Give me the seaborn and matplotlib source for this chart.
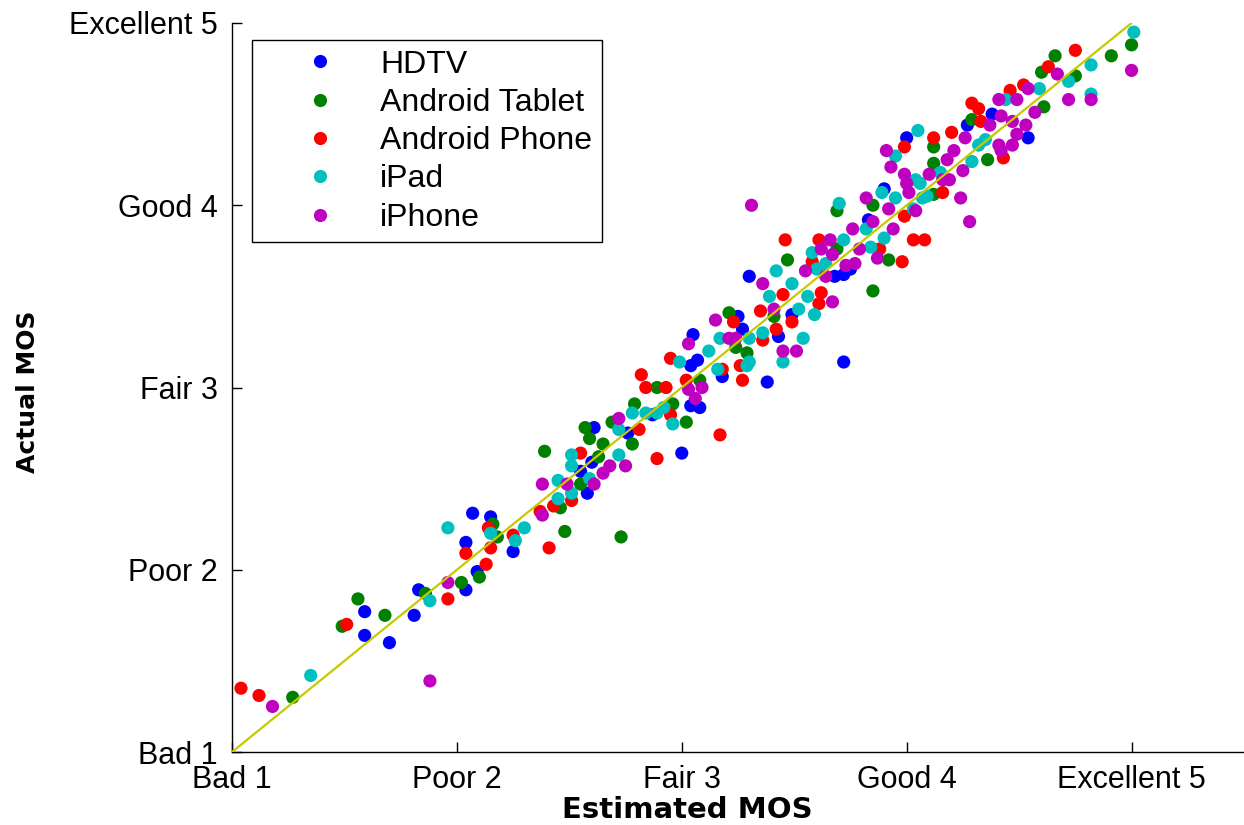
import matplotlib
matplotlib.use("Agg")
import matplotlib.pyplot as plt
import seaborn as sns
import pandas as pd

# MOS scale
mos_scale = [1, 2, 3, 4, 5]
mos_labels = ["Bad 1", "Poor 2", "Fair 3", "Good 4", "Excellent 5"]

devices = ["HDTV", "Android Tablet", "Android Phone", "iPad", "iPhone"]
device_colors = ["#0000ff", "#008000", "#ff0000", "#00bfbf", "#bf00bf"]

# (estimated, actual) pairs
hdtv = [(1.59, 1.77), (1.59, 1.64), (1.70, 1.60), (1.81, 1.75), (1.83, 1.89), (2.04, 1.89),
        (2.09, 1.99), (2.04, 2.15), (2.07, 2.31), (2.15, 2.29), (2.25, 2.10), (2.58, 2.42),
        (2.55, 2.54), (2.60, 2.59), (2.61, 2.78), (2.76, 2.75), (2.87, 2.85), (3.00, 2.64),
        (3.05, 3.29), (3.07, 3.15), (3.04, 3.12), (3.04, 2.90), (3.08, 2.89), (3.18, 3.06),
        (3.27, 3.32), (3.25, 3.39), (3.30, 3.61), (3.38, 3.03), (3.43, 3.28), (3.49, 3.40),
        (3.72, 3.14), (3.72, 3.62), (3.68, 3.61), (3.75, 3.65), (3.83, 3.92), (3.90, 4.09),
        (4.00, 4.37), (4.27, 4.44), (4.38, 4.50), (4.54, 4.37)]

android_tablet = [(1.27, 1.30), (1.49, 1.69), (1.56, 1.84), (1.68, 1.75), (1.86, 1.87), (2.02, 1.93),
                  (2.10, 1.96), (2.16, 2.25), (2.18, 2.18), (2.48, 2.21), (2.73, 2.18), (2.46, 2.34),
                  (2.55, 2.47), (2.39, 2.65), (2.57, 2.78), (2.59, 2.72), (2.65, 2.69), (2.63, 2.62),
                  (2.69, 2.81), (2.79, 2.91), (2.78, 2.69), (2.96, 2.91), (3.02, 2.81), (2.89, 3.00),
                  (3.08, 3.04), (3.21, 3.41), (3.24, 3.22), (3.29, 3.19), (3.41, 3.39), (3.47, 3.70),
                  (3.69, 3.97), (3.85, 4.00), (3.69, 3.76), (3.92, 3.70), (3.85, 3.53), (4.12, 4.06),
                  (4.12, 4.23), (4.12, 4.32), (4.36, 4.25), (4.29, 4.47), (4.61, 4.54), (4.60, 4.73),
                  (4.66, 4.82), (4.75, 4.71), (4.91, 4.82), (5.00, 4.88)]

android_phone = [(1.04, 1.35), (1.12, 1.31), (1.51, 1.70), (1.96, 1.84), (2.04, 2.09), (2.13, 2.03),
                 (2.14, 2.23), (2.15, 2.12), (2.25, 2.19), (2.41, 2.12), (2.37, 2.32), (2.43, 2.35),
                 (2.51, 2.38), (2.55, 2.64), (2.81, 2.77), (2.89, 2.61), (3.17, 2.74), (2.84, 3.00),
                 (2.82, 3.07), (2.93, 3.00), (2.95, 3.16), (2.95, 2.85), (3.02, 3.04), (3.18, 3.10),
                 (3.23, 3.36), (3.26, 3.12), (3.27, 3.04), (3.35, 3.42), (3.42, 3.32), (3.36, 3.26),
                 (3.45, 3.51), (3.49, 3.36), (3.46, 3.81), (3.62, 3.52), (3.61, 3.46), (3.61, 3.81),
                 (3.58, 3.69), (3.88, 3.76), (3.98, 3.69), (4.03, 3.81), (4.08, 3.81), (3.99, 3.94),
                 (4.16, 4.07), (3.99, 4.32), (4.12, 4.37), (4.20, 4.40), (4.29, 4.56), (4.32, 4.53),
                 (4.33, 4.46), (4.43, 4.26), (4.46, 4.63), (4.52, 4.66), (4.63, 4.76), (4.75, 4.85)]

ipad = [(1.35, 1.42), (1.88, 1.83), (1.96, 2.23), (2.15, 2.20), (2.26, 2.16), (2.30, 2.23),
        (2.45, 2.39), (2.51, 2.42), (2.45, 2.49), (2.51, 2.63), (2.51, 2.57), (2.59, 2.50),
        (2.72, 2.63), (2.72, 2.77), (2.78, 2.86), (2.84, 2.86), (2.89, 2.86), (2.92, 2.89),
        (2.96, 2.80), (2.99, 3.14), (3.12, 3.20), (3.16, 3.10), (3.17, 3.27), (3.29, 3.12),
        (3.30, 3.27), (3.36, 3.30), (3.30, 3.14), (3.39, 3.50), (3.42, 3.64), (3.49, 3.57),
        (3.52, 3.43), (3.56, 3.50), (3.59, 3.40), (3.54, 3.27), (3.45, 3.14), (3.60, 3.65),
        (3.58, 3.74), (3.64, 3.68), (3.72, 3.81), (3.82, 3.87), (3.84, 3.77), (3.90, 3.82),
        (3.70, 4.01), (3.89, 4.07), (3.95, 4.04), (4.03, 3.98), (4.07, 4.04), (4.04, 4.14),
        (4.09, 4.05), (4.06, 4.12), (3.95, 4.27), (4.05, 4.41), (4.15, 4.18), (4.29, 4.24),
        (4.32, 4.33), (4.35, 4.36), (4.44, 4.58), (4.59, 4.64), (4.72, 4.68), (4.82, 4.77),
        (4.82, 4.61), (5.01, 4.95)]

iphone = [(1.18, 1.25), (1.88, 1.39), (1.96, 1.93), (2.38, 2.30), (2.38, 2.47), (2.49, 2.47),
          (2.61, 2.47), (2.65, 2.53), (2.68, 2.57), (2.75, 2.57), (2.72, 2.83), (3.03, 2.99),
          (3.09, 3.00), (3.06, 2.94), (3.03, 3.24), (3.15, 3.37), (3.21, 3.27), (3.24, 3.27),
          (3.31, 4.00), (3.36, 3.57), (3.41, 3.43), (3.45, 3.20), (3.51, 3.20), (3.67, 3.47),
          (3.55, 3.64), (3.64, 3.61), (3.62, 3.76), (3.66, 3.81), (3.67, 3.73), (3.73, 3.67),
          (3.77, 3.68), (3.79, 3.76), (3.76, 3.87), (3.87, 3.71), (3.85, 3.91), (3.82, 4.04),
          (3.92, 3.98), (3.94, 3.87), (4.04, 3.97), (3.91, 4.30), (3.93, 4.21), (3.99, 4.17),
          (4.00, 4.12), (4.01, 4.07), (4.10, 4.17), (4.16, 4.14), (4.19, 4.14), (4.25, 4.19),
          (4.24, 4.04), (4.28, 3.91), (4.18, 4.25), (4.21, 4.30), (4.26, 4.37), (4.37, 4.44),
          (4.41, 4.33), (4.42, 4.30), (4.47, 4.33), (4.42, 4.49), (4.47, 4.46), (4.53, 4.44),
          (4.49, 4.39), (4.41, 4.58), (4.49, 4.58), (4.57, 4.51), (4.54, 4.64), (4.67, 4.72),
          (4.72, 4.58), (4.82, 4.58), (5.00, 4.74)]

series = [hdtv, android_tablet, android_phone, ipad, iphone]

rows = []
for name, pts in zip(devices, series):
    for est, act in pts:
        rows.append({"Estimated MOS": est, "Actual MOS": act, "device": name})
df = pd.DataFrame(rows)

sns.set_style("white")
plt.rcParams['font.family'] = ['Liberation Sans', 'DejaVu Sans']
plt.rcParams['text.color'] = 'black'
plt.rcParams['axes.labelcolor'] = 'black'

fig = plt.figure(figsize=(12.44, 8.25), dpi=100)
ax = fig.add_axes([232 / 1244, 73 / 825, 1012 / 1244, 729 / 825])

sns.scatterplot(data=df, x="Estimated MOS", y="Actual MOS", hue="device",
                hue_order=devices, palette=dict(zip(devices, device_colors)),
                s=90, linewidth=0, ax=ax, zorder=3)

# y = x reference line
ax.plot([mos_scale[0], mos_scale[-1]], [mos_scale[0], mos_scale[-1]],
        color="#c8c800", lw=1.6, zorder=5)

ax.set_xlim(1, 5.5)
ax.set_ylim(1, 5)
ax.set_xticks(mos_scale)
ax.set_xticklabels(mos_labels)
ax.set_yticks(mos_scale)
ax.set_yticklabels(mos_labels)
ax.tick_params(direction="in", length=7, width=1, labelsize=22, colors="black",
               bottom=True, left=True, top=False, right=False)
ax.tick_params(axis="x", pad=9)
ax.tick_params(axis="y", pad=10)

for side in ["top", "right"]:
    ax.spines[side].set_visible(False)
for side in ["left", "bottom"]:
    ax.spines[side].set_color("black")
    ax.spines[side].set_linewidth(1)

ax.set_xlabel("Estimated MOS", fontsize=21, fontweight="bold", family="DejaVu Sans")
ax.set_ylabel("Actual MOS", fontsize=18, fontweight="bold", family="DejaVu Sans")
ax.xaxis.set_label_coords(0.45, -0.06)
ax.yaxis.set_label_coords(-0.19, 0.494)

handles, labels = ax.get_legend_handles_labels()
leg = ax.legend(handles, labels, loc="upper left", bbox_to_anchor=(0.0198, 0.9767),
                borderaxespad=0, frameon=True, fancybox=False, edgecolor="black",
                framealpha=1, fontsize=23, handlelength=3.66, handletextpad=0.05,
                borderpad=0.3, labelspacing=0.26)
leg.get_frame().set_linewidth(1)

fig.savefig("out.png", dpi=100)
